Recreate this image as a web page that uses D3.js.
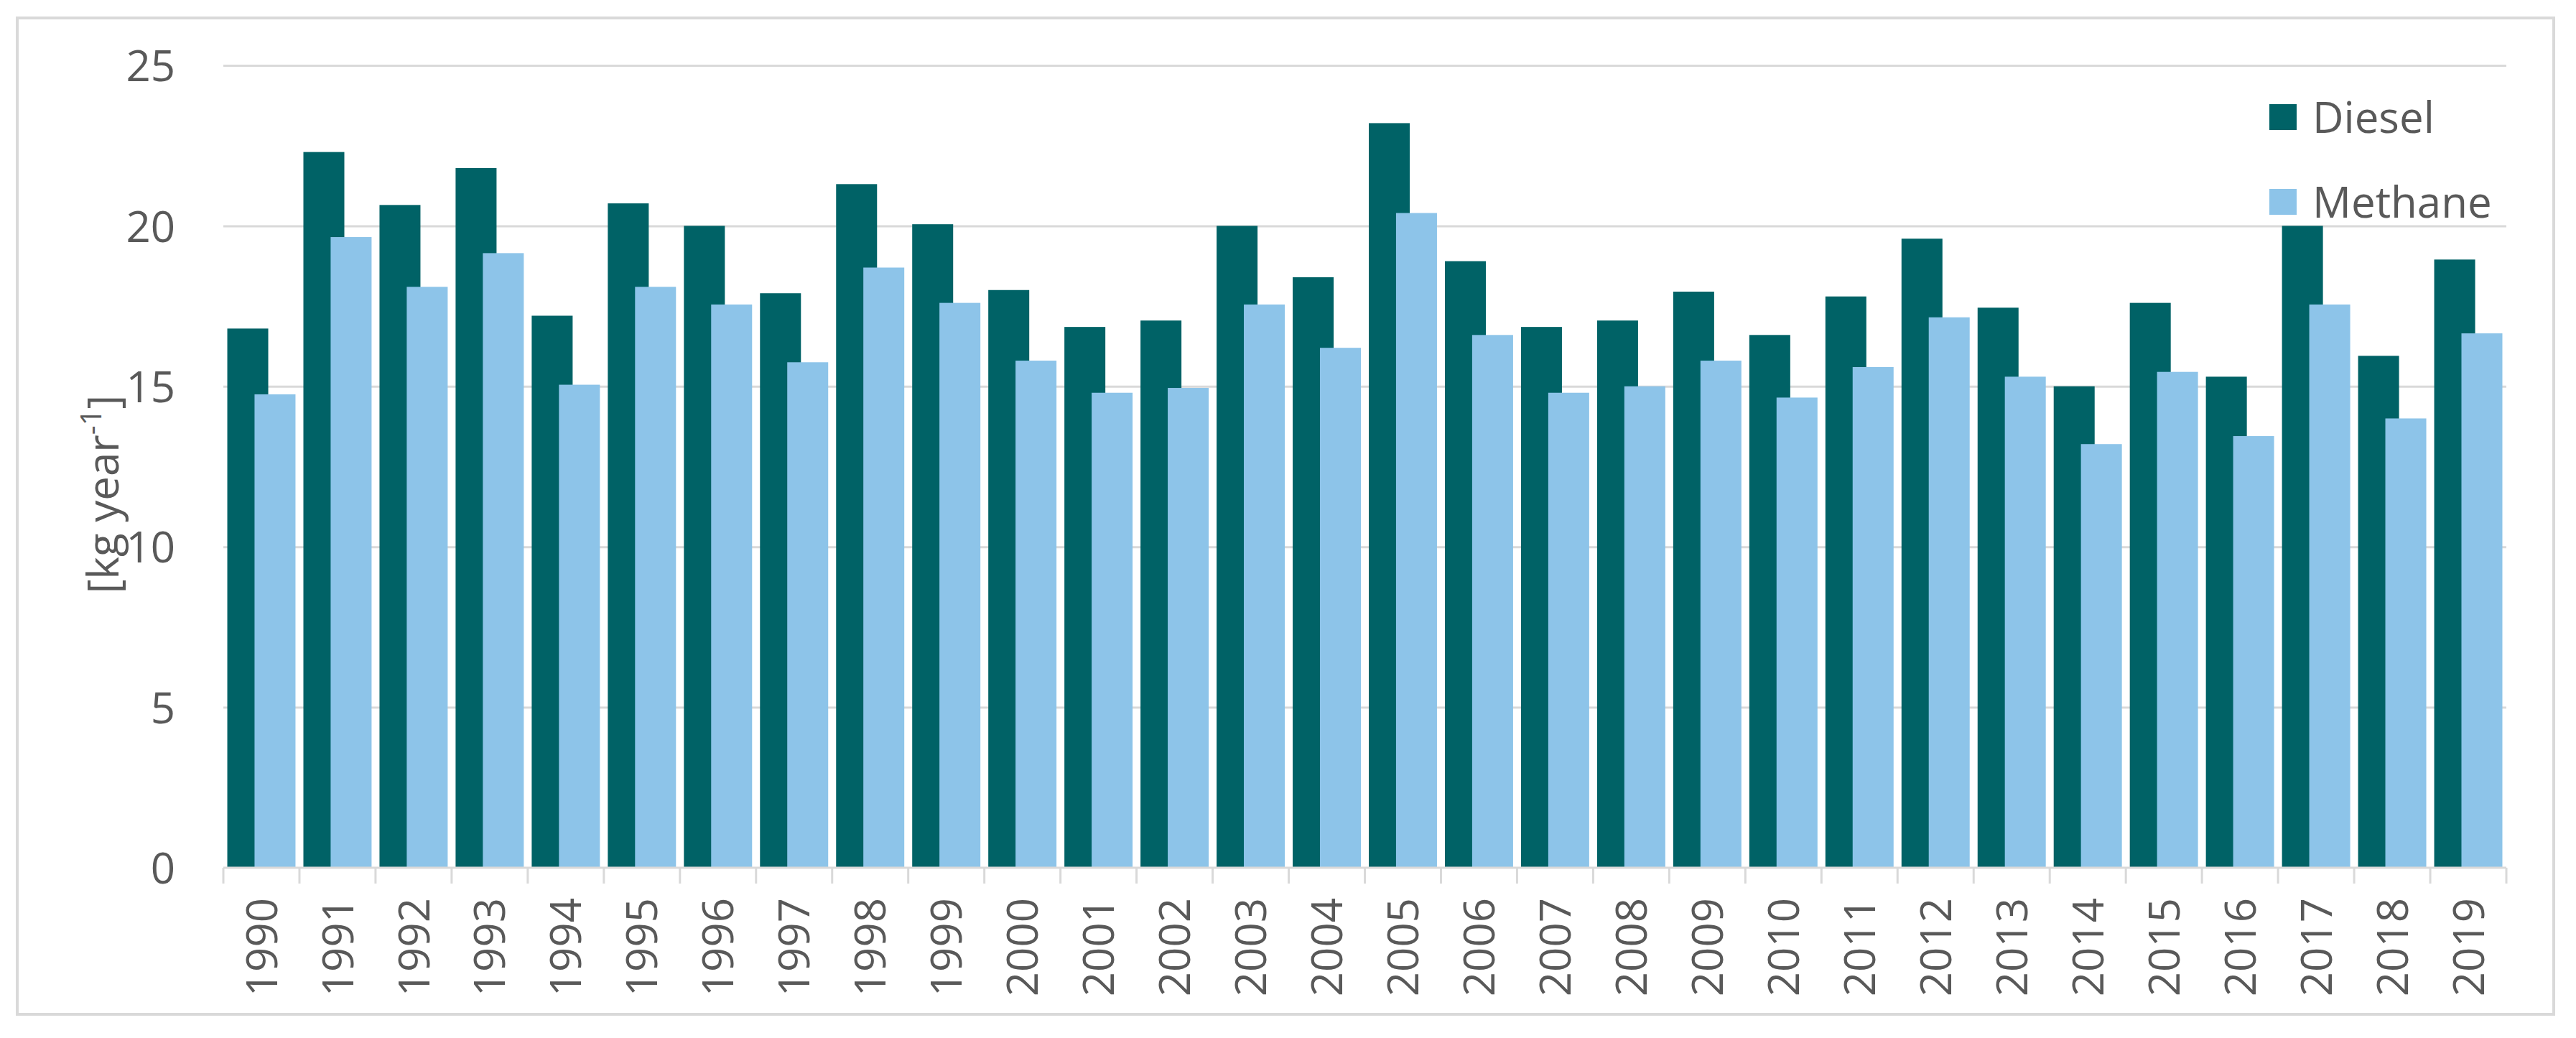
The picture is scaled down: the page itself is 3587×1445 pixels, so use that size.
<!DOCTYPE html>
<html>
<head>
<meta charset="utf-8">
<script src="https://cdn.jsdelivr.net/npm/d3@7"></script>
<style>
  html, body { margin: 0; padding: 0; background: #ffffff; }
  svg { display: block; }
  text { font-family: "Open Sans", "Noto Sans", sans-serif; fill: #595959; }
</style>
</head>
<body>
<svg id="chart" width="3587" height="1445"></svg>
<script>
const years = ["1990","1991","1992","1993","1994","1995","1996","1997","1998","1999",
               "2000","2001","2002","2003","2004","2005","2006","2007","2008","2009",
               "2010","2011","2012","2013","2014","2015","2016","2017","2018","2019"];
const diesel = [16.8, 22.3, 20.65, 21.8, 17.2, 20.7, 20.0, 17.9, 21.3, 20.05,
                18.0, 16.85, 17.05, 20.0, 18.4, 23.2, 18.9, 16.85, 17.05, 17.95,
                16.6, 17.8, 19.6, 17.45, 15.0, 17.6, 15.3, 20.0, 15.95, 18.95];
const methane = [14.75, 19.65, 18.1, 19.15, 15.05, 18.1, 17.55, 15.75, 18.7, 17.6,
                 15.8, 14.8, 14.95, 17.55, 16.2, 20.4, 16.6, 14.8, 15.0, 15.8,
                 14.65, 15.6, 17.15, 15.3, 13.2, 15.45, 13.45, 17.55, 14.0, 16.65];
const yTicks = [0, 5, 10, 15, 20, 25];
const seriesNames = ["Diesel", "Methane"];
const seriesColors = ["#006266", "#8dc4e9"];

(function () {
const svg = d3.select("#chart");
const pLeft = 311, pRight = 3490, pTop = 91, pBottom = 1208;

// outer frame
svg.append("rect").attr("x", 24).attr("y", 25).attr("width", 3556 - 24).attr("height", 1412 - 25)
  .attr("fill", "#ffffff").attr("stroke", "#d9d9d9").attr("stroke-width", 4);

const x = d3.scaleBand().domain(years).range([pLeft, pRight]).padding(0);
const y = d3.scaleLinear().domain([0, 25]).range([pBottom, pTop]);
const bw = x.bandwidth();

// gridlines + y labels
const yAxis = d3.axisLeft(y).tickValues(yTicks).tickSize(-(pRight - pLeft)).tickPadding(67).tickFormat(d3.format("d"));
const gy = svg.append("g").attr("transform", `translate(${pLeft},0)`).call(yAxis);
gy.select(".domain").remove();
gy.selectAll(".tick line").attr("stroke", "#d9d9d9").attr("stroke-width", 3)
  .filter(d => d === 0).remove();
gy.selectAll(".tick text").attr("font-size", 60).attr("fill", "#595959")
  .attr("font-family", "'Open Sans', sans-serif").attr("dy", "0.36em");

// bars
const barW = bw * 0.538;
const offsets = [bw * 0.052, bw * 0.41];
const seriesData = [diesel, methane];
seriesData.forEach((vals, si) => {
  svg.append("g").selectAll("rect").data(years).join("rect")
    .attr("x", d => x(d) + offsets[si])
    .attr("y", (d, i) => y(vals[i]))
    .attr("width", barW)
    .attr("height", (d, i) => y(0) - y(vals[i]))
    .attr("fill", seriesColors[si]);
});

// x axis
const xAxis = d3.axisBottom(x).tickSize(0).tickPadding(0);
const gx = svg.append("g").attr("transform", `translate(0,${pBottom})`).call(xAxis);
gx.select(".domain").attr("stroke", "#d9d9d9").attr("stroke-width", 3)
  .attr("d", `M${pLeft},0H${pRight}`);
gx.selectAll(".tick text").attr("font-size", 60).attr("fill", "#595959")
  .attr("font-family", "'Open Sans', sans-serif")
  .attr("transform", "rotate(-90)").attr("x", -42).attr("y", 0).attr("dy", "0.36em")
  .style("text-anchor", "end");
// category separator ticks
const bounds = years.map(d => x(d)).concat([pRight]);
svg.append("g").selectAll("line").data(bounds).join("line")
  .attr("x1", d => d).attr("x2", d => d).attr("y1", pBottom).attr("y2", pBottom + 22)
  .attr("stroke", "#d9d9d9").attr("stroke-width", 3);

// y axis title
const title = svg.append("text")
  .attr("transform", "translate(165,688) rotate(-90)")
  .attr("text-anchor", "middle").attr("font-size", 60);
title.append("tspan").text("[kg year");
title.append("tspan").text("-1").attr("font-size", 40).attr("dy", -24);
title.append("tspan").text("]").attr("dy", 24);

// legend
const legendY = [163, 281];
seriesNames.forEach((name, i) => {
  svg.append("rect").attr("x", 3160).attr("y", legendY[i] - 18).attr("width", 38).attr("height", 36)
    .attr("fill", seriesColors[i]);
  svg.append("text").attr("x", 3220).attr("y", legendY[i]).attr("dy", "0.36em")
    .attr("font-size", 60).text(name);
});
})();
</script>
</body>
</html>
